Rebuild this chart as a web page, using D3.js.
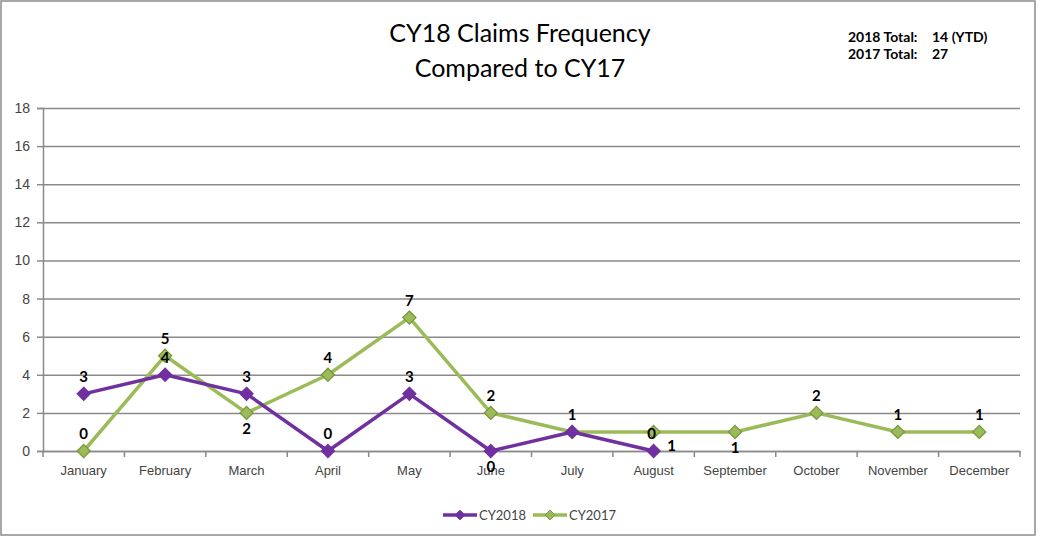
<!DOCTYPE html>
<html>
<head>
<meta charset="utf-8">
<script src="https://cdn.jsdelivr.net/npm/d3@7"></script>
<style>
  body { margin: 0; background: #fff; }
  svg { display: block; font-family: Lato, "Open Sans", sans-serif; }
</style>
</head>
<body>
<div id="chart"></div>
<script>
const months = ['January', 'February', 'March', 'April', 'May', 'June', 'July',
  'August', 'September', 'October', 'November', 'December'];
const cy2018 = [3, 4, 3, 0, 3, 0, 1, 0];
const cy2017 = [0, 5, 2, 4, 7, 2, 1, 1, 1, 2, 1, 1];
const yTicks = [0, 2, 4, 6, 8, 10, 12, 14, 16, 18];
const titleLines = ['CY18 Claims Frequency', 'Compared to CY17'];
const totals = [['2018 Total:', '14 (YTD)'], ['2017 Total:', '27']];
// label placement per point (Excel put them by hand)
const pos2018 = ['above', 'above', 'above', 'above', 'above', 'below', 'above', 'aboveLeft'];
const pos2017 = ['above', 'above', 'below', 'above', 'above', 'above', 'none', 'right',
  'below', 'above', 'above', 'above'];

const width = 1039, height = 539;
const margin = { top: 108, right: 19, bottom: 88, left: 43 };
const colors = { cy2018: '#7030a0', cy2017: '#9bbb59', cy2017Dark: '#77933c' };

const svg = d3.select('#chart').append('svg')
  .attr('width', width)
  .attr('height', height);

// outer frame
svg.append('rect')
  .attr('x', 1).attr('y', 1)
  .attr('width', 1034).attr('height', 534)
  .attr('fill', '#fff')
  .attr('stroke', '#8c8c8c')
  .attr('stroke-width', 1.5);

const x = d3.scaleBand()
  .domain(months)
  .range([margin.left, width - margin.right]);

const y = d3.scaleLinear()
  .domain([0, 18])
  .range([height - margin.bottom, margin.top]);

// title
svg.append('text')
  .attr('x', 520).attr('y', 42)
  .attr('text-anchor', 'middle')
  .attr('font-size', 25)
  .attr('fill', '#000')
  .selectAll('tspan')
  .data(titleLines)
  .join('tspan')
  .attr('x', 520)
  .attr('dy', (d, i) => i === 0 ? 0 : 35)
  .text(d => d);

// totals
const tot = svg.append('g')
  .attr('font-size', 14)
  .attr('font-weight', 'bold')
  .attr('font-family', '"Liberation Sans Narrow", Lato, sans-serif');
totals.forEach((t, i) => {
  tot.append('text').attr('x', 848).attr('y', 42 + i * 17).text(t[0]);
  tot.append('text').attr('x', 932).attr('y', 42 + i * 17).text(t[1]);
});

// gridlines
svg.append('g')
  .attr('transform', `translate(${margin.left},0)`)
  .call(d3.axisLeft(y).tickValues(yTicks).tickSize(-(width - margin.left - margin.right)).tickFormat(''))
  .call(g => g.select('.domain').remove())
  .call(g => g.selectAll('line').attr('stroke', '#8a8a8a').attr('stroke-width', 1.5));

// y axis
svg.append('g')
  .attr('transform', `translate(${margin.left},0)`)
  .call(d3.axisLeft(y).tickValues(yTicks).tickSize(6).tickPadding(7))
  .call(g => g.select('.domain').attr('stroke', '#8a8a8a').attr('stroke-width', 1.5))
  .call(g => g.selectAll('.tick line').attr('stroke', '#8a8a8a').attr('stroke-width', 1.5))
  .call(g => g.selectAll('.tick text').attr('fill', '#444').attr('font-size', 14));

// x axis
const xAxis = svg.append('g')
  .attr('transform', `translate(0,${y(0)})`)
  .call(d3.axisBottom(x).tickSize(0).tickPadding(15))
  .call(g => g.select('.domain').attr('stroke', '#8a8a8a').attr('stroke-width', 1.5))
  .call(g => g.selectAll('.tick text').attr('fill', '#444').attr('font-size', 13));
xAxis.selectAll('.sep')
  .data(months.concat(['end']))
  .join('line')
  .attr('class', 'sep')
  .attr('x1', (d, i) => x.range()[0] + i * x.bandwidth())
  .attr('x2', (d, i) => x.range()[0] + i * x.bandwidth())
  .attr('y1', 0).attr('y2', 6)
  .attr('stroke', '#8a8a8a').attr('stroke-width', 1.5);

const cx = i => x(months[i]) + x.bandwidth() / 2;
const line = d3.line().x((d, i) => cx(i)).y(d => y(d));
const diamond = d3.symbol().type(d3.symbolDiamond2).size(110);

function drawSeries(data, color, fill, stroke) {
  svg.append('path')
    .datum(data)
    .attr('d', line)
    .attr('fill', 'none')
    .attr('stroke', color)
    .attr('stroke-width', 3.5)
    .attr('stroke-linejoin', 'round');
  svg.append('g').selectAll('path')
    .data(data)
    .join('path')
    .attr('d', diamond)
    .attr('transform', (d, i) => `translate(${cx(i)},${y(d)})`)
    .attr('fill', fill)
    .attr('stroke', stroke)
    .attr('stroke-width', 1.2);
}

drawSeries(cy2017, colors.cy2017, '#9bbb59', colors.cy2017Dark);
drawSeries(cy2018, colors.cy2018, colors.cy2018, colors.cy2018);

function drawLabels(data, placement) {
  svg.append('g')
    .attr('font-size', 15)
    .attr('font-weight', 'bold')
    .attr('text-anchor', 'middle')
    .selectAll('text')
    .data(data.map((v, i) => ({ v, i, p: placement[i] })).filter(d => d.p !== 'none'))
    .join('text')
    .attr('x', d => cx(d.i) + (d.p === 'right' ? 18 : d.p === 'aboveLeft' ? -2 : 0))
    .attr('y', d => y(d.v) + (d.p === 'below' ? 21 : d.p === 'right' ? 19 : -12))
    .text(d => d.v);
}

drawLabels(cy2018, pos2018);
drawLabels(cy2017, pos2017);

// legend
const legend = svg.append('g').attr('font-size', 13).attr('fill', '#444');
[['CY2018', colors.cy2018, colors.cy2018, colors.cy2018, 443],
 ['CY2017', colors.cy2017, '#9bbb59', colors.cy2017Dark, 533]].forEach(([name, c, f, s, lx]) => {
  legend.append('line')
    .attr('x1', lx).attr('x2', lx + 34)
    .attr('y1', 515).attr('y2', 515)
    .attr('stroke', c).attr('stroke-width', 3.5);
  legend.append('path')
    .attr('d', d3.symbol().type(d3.symbolDiamond2).size(60))
    .attr('transform', `translate(${lx + 17},515)`)
    .attr('fill', f).attr('stroke', s);
  legend.append('text')
    .attr('x', lx + 36).attr('y', 520)
    .attr('fill', '#444')
    .text(name);
});
</script>
</body>
</html>
